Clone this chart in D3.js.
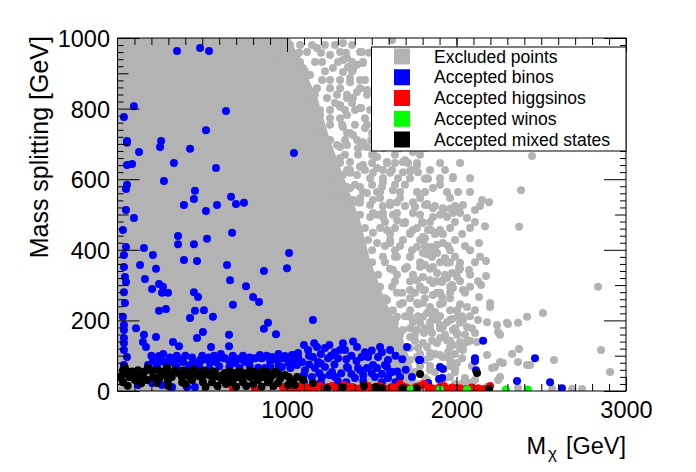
<!DOCTYPE html>
<html>
<head>
<meta charset="utf-8">
<script src="https://cdn.jsdelivr.net/npm/d3@7"></script>
<style>
  body { margin: 0; background: #fff; }
  svg { display: block; font-family: "Liberation Sans", Arial, sans-serif; }
  .tick-label { font-size: 23.5px; fill: #000; }
</style>
</head>
<body>
<div id="chart"></div>
<script>
// dense part of the excluded cloud (outline)
const excludedCore = [
  [0, 1000], [1018, 1000], [1077, 938], [1183, 825], [1254, 711], [1342, 598],
  [1431, 484], [1490, 371], [1578, 258], [1667, 173], [1726, 88], [1785, 0], [0, 0]
];

// scattered excluded points around the dense part
const excludedPoints = [
  [976, 943], [1059, 952], [1118, 960], [1177, 972], [1254, 952], [1313, 960], [1354, 943],
  [1431, 960], [1413, 924], [1448, 932], [1271, 915], [1330, 904], [1372, 887], [1413, 847],
  [1295, 839], [1236, 830], [1313, 810], [1195, 782], [1254, 773], [1354, 782], [1431, 802],
  [1472, 754], [1389, 725], [1448, 705], [1354, 697], [1295, 697], [1236, 677], [1313, 660],
  [1372, 649], [1448, 640], [1413, 612], [1330, 612], [1271, 592], [1372, 575], [1448, 564],
  [1531, 632], [1566, 603], [1590, 649], [1684, 649], [1767, 640], [1684, 620], [1737, 626],
  [1826, 603], [1767, 564], [1861, 575], [1944, 564], [1979, 603], [2009, 564], [1649, 535],
  [1531, 564], [1608, 527], [1743, 535], [1826, 527], [1920, 518], [2038, 527], [1490, 527],
  [1413, 535], [1330, 535], [1254, 555], [1212, 734], [1153, 819], [1177, 858], [1136, 895],
  [1094, 915],
  [1330, 986], [1442, 960], [1448, 929], [1330, 938], [1360, 918], [1389, 909], [1460, 881],
  [1372, 875], [1472, 853], [1354, 830], [1389, 830], [1313, 805], [1342, 796], [1437, 802],
  [1620, 994], [1460, 745], [1330, 748], [1354, 731], [1413, 711], [1431, 691], [1313, 691],
  [1472, 691], [1507, 677], [1531, 663], [1590, 646], [1566, 626], [1743, 677], [1696, 654],
  [1714, 646], [1767, 646], [1726, 623], [1773, 620], [1313, 646], [1354, 626], [1372, 618],
  [1431, 635], [1507, 618], [1566, 592], [1560, 578], [1608, 618], [1625, 569], [1431, 578],
  [1472, 561], [1354, 578], [1330, 541], [1389, 541], [1431, 533], [1507, 541], [1608, 533],
  [1507, 504], [1566, 493], [1649, 504], [1755, 521], [1814, 527], [1696, 476], [1743, 456],
  [1797, 479], [1832, 456], [1903, 456],
  [2446, 666], [1979, 606], [1814, 601], [1832, 601], [2381, 569], [2151, 541], [2192, 535],
  [1826, 530], [1861, 518], [1920, 510], [1962, 516], [1979, 504], [2015, 516], [2109, 513],
  [2062, 490], [1802, 476], [2168, 467], [2369, 465], [1850, 456], [1920, 445], [1814, 433],
  [2133, 419], [1873, 408], [1885, 414], [1826, 388], [1932, 377], [1962, 365], [2174, 368],
  [1814, 357], [2015, 351], [2015, 343], [2074, 343], [1885, 334], [1974, 334], [2174, 326],
  [1802, 323], [1844, 314], [1861, 306], [1915, 309], [1944, 320], [1974, 300], [1979, 292],
  [2145, 300], [1814, 286], [1861, 272], [1915, 266], [2133, 266], [1802, 249], [2062, 238],
  [2198, 249], [2198, 238], [2003, 227], [1826, 221], [1873, 224], [1861, 210], [2080, 212],
  [2127, 201], [1974, 204], [2009, 210], [2239, 187], [2298, 193], [2304, 190], [2363, 193],
  [2416, 210], [2510, 221], [1785, 193], [1844, 181], [1903, 187], [2021, 193], [2062, 181],
  [1808, 164], [1856, 164], [1979, 173], [2003, 159], [2109, 164], [2245, 167], [2257, 159],
  [1903, 150], [1944, 144], [2021, 139], [2062, 139], [2121, 139], [1826, 125], [1979, 130],
  [2038, 116], [2328, 105], [2369, 119], [2835, 295], [2853, 116], [1844, 108], [1903, 102],
  [1944, 96], [1950, 110], [2033, 93], [2180, 102], [2257, 82], [2274, 79], [2363, 82],
  [2434, 74], [2575, 88], [2906, 54], [2210, 65], [2227, 68], [1991, 62], [2257, 40],
  [2245, 31], [2080, 23], [2109, 31], [2180, 11], [2363, 8], [2564, 6], [2682, 6], [2741, 6],
  [1826, 31], [2003, 8], [2416, 74],
  [1490, 493], [1566, 504], [1649, 484], [1590, 456], [1507, 448], [1684, 476], [1743, 504],
  [1861, 493], [1944, 493], [2021, 504], [1726, 448], [1802, 436], [1885, 448], [1920, 419],
  [1844, 408], [1767, 408], [1684, 428], [1608, 419], [1531, 419], [1566, 380], [1649, 380],
  [1726, 380], [1802, 391], [1885, 391], [1962, 399], [2021, 363], [1944, 363], [1861, 351],
  [1785, 351], [1708, 351], [1625, 343], [1767, 314], [1844, 314], [1920, 314], [2003, 323],
  [2038, 286], [1962, 278], [1885, 278], [1802, 286], [1726, 286], [1649, 278], [1590, 258],
  [1684, 249], [1767, 249], [1844, 238], [1920, 249], [2003, 229], [2038, 201], [1962, 201],
  [1885, 201], [1802, 210], [1726, 210], [1649, 210], [1608, 181], [1684, 173], [1767, 173],
  [1844, 173], [1920, 181], [2003, 164], [2038, 125], [1962, 125], [1885, 136], [1802, 136],
  [1726, 153], [1844, 96], [1920, 96], [2003, 79], [1767, 96], [1684, 108], [1684, 68],
  [1844, 59], [1962, 40], [2038, 23],
  // denser blobs next to the solid part, upper half
  [900, 980], [959, 980], [1018, 980], [1077, 980], [1148, 980], [1224, 980], [1283, 980],
  [1384, 980], [1018, 932], [1077, 932], [1165, 932], [1207, 932], [1301, 932], [1384, 932],
  [1018, 881], [1077, 881], [1207, 881], [1254, 881], [1313, 881], [1431, 881], [1165, 839],
  [1354, 839], [1472, 839], [1195, 796], [1254, 796], [1401, 796], [1490, 796], [1254, 754],
  [1325, 754], [1401, 754], [1549, 754], [1254, 711], [1342, 711], [1496, 711], [1608, 711],
  [1342, 669], [1419, 669], [1502, 669], [1637, 669], [1785, 669], [1372, 626], [1460, 626],
  [1620, 626], [1844, 626], [1932, 626], [1401, 584], [1502, 584], [1637, 584], [1696, 584],
  [1903, 584], [1431, 547], [1549, 547], [1667, 547], [1785, 547], [1962, 547],
  [1071, 958], [1201, 958], [1348, 958], [1484, 958], [1106, 906], [1224, 906], [1384, 906],
  [1519, 906], [1254, 858], [1313, 858], [1431, 858], [1560, 858], [1283, 816], [1384, 816],
  [1537, 816], [1313, 773], [1460, 773], [1578, 773], [1372, 731], [1502, 731], [1655, 731],
  [1726, 731], [1419, 688], [1566, 688], [1667, 688], [1814, 688], [1502, 646], [1637, 646],
  [1903, 646], [2021, 646], [1490, 603], [1655, 603], [1726, 603], [1903, 603], [2080, 603],
  [1549, 564], [1667, 564], [1814, 564], [2080, 564], [1566, 524], [1696, 524], [1873, 524],
  [1991, 524], [2139, 524],
  // denser blobs next to the solid part, lower half
  [1431, 499], [1531, 499], [1625, 499], [1785, 499], [1903, 499], [1460, 462], [1549, 462],
  [1637, 462], [1767, 462], [1962, 462], [2080, 462], [1478, 428], [1608, 428], [1785, 428],
  [1991, 428], [1502, 399], [1637, 399], [1737, 399], [1844, 399], [2080, 399], [1502, 365],
  [1578, 365], [1785, 365], [1903, 365], [2109, 365], [1537, 329], [1649, 329], [1743, 329],
  [1932, 329], [2080, 329], [1549, 295], [1620, 295], [1785, 295], [1962, 295], [2080, 295],
  [1578, 263], [1726, 263], [1814, 263], [1962, 263], [1625, 229], [1726, 229], [1962, 229],
  [2109, 229], [1637, 195], [1743, 195], [1844, 195], [1944, 195], [2180, 195], [1667, 159],
  [1755, 159], [1932, 159], [2050, 159], [1726, 122], [1773, 122], [2021, 122], [1726, 88],
  [1814, 88], [1962, 88], [1755, 54], [1873, 54], [1991, 54], [1785, 20], [1903, 20], [1991, 20],
  [1578, 479], [1696, 479], [1844, 479], [1991, 479], [2109, 479], [1608, 445], [1726, 445],
  [1873, 445], [2033, 445], [1578, 411], [1667, 411], [1814, 411], [1950, 411], [2050, 411],
  [1637, 380], [1726, 380], [1856, 380], [1991, 380], [2139, 380], [1608, 346], [1696, 346],
  [1844, 346], [2021, 346], [1637, 311], [1726, 311], [1885, 311], [2021, 311], [2127, 311],
  [1679, 278], [1755, 278], [1903, 278], [2050, 278], [1667, 246], [1773, 246], [1903, 246],
  [2021, 246], [1696, 212], [1773, 212], [1903, 212], [2033, 212], [1726, 178], [1814, 178],
  [1903, 178], [1991, 178], [2091, 178], [1755, 142], [1856, 142], [1962, 142], [2080, 142],
  [1785, 105], [1873, 105], [1991, 105], [1785, 71], [1844, 71], [1962, 71], [2091, 71],
  [1814, 37], [1932, 37], [2050, 37]
];

const binoPoints = [
  [351, 963], [487, 972], [540, 963], [97, 807], [38, 776], [640, 793], [522, 739], [56, 708],
  [56, 703], [257, 708], [251, 691], [428, 686], [127, 677], [1041, 674], [56, 640], [86, 643],
  [333, 646], [581, 632], [274, 595], [56, 584], [50, 572], [457, 567], [451, 544], [670, 550],
  [392, 527], [587, 527], [699, 530], [746, 533], [522, 510], [50, 513], [97, 490], [32, 456],
  [357, 439], [676, 448], [528, 431], [357, 416], [451, 416], [50, 408], [156, 405], [209, 385],
  [1012, 391], [38, 385], [133, 357], [227, 346], [392, 371], [469, 368], [646, 357], [864, 340],
  [1000, 348], [38, 351], [44, 323], [50, 309], [38, 280], [44, 249], [162, 317], [664, 314],
  [204, 289], [245, 303], [268, 295], [263, 278], [298, 278], [451, 280], [475, 266], [758, 297],
  [800, 266], [835, 252], [681, 244], [286, 232], [245, 227], [457, 227], [510, 229], [563, 210],
  [428, 207], [1153, 201], [32, 210], [38, 187], [38, 173], [109, 178], [888, 193], [864, 176],
  [504, 167], [935, 161], [156, 159], [227, 153], [658, 159], [469, 150], [38, 150], [38, 136],
  [38, 116], [56, 96], [150, 139], [168, 125], [327, 139], [363, 127], [552, 125], [658, 127],
  [245, 99], [263, 85],
  [1065, 108], [1124, 116], [1177, 125], [1224, 122], [1283, 110], [1313, 116], [1342, 116],
  [1413, 125], [1460, 110], [1549, 125], [1608, 116], [1708, 125], [1088, 82], [1153, 96],
  [1183, 82], [1242, 93], [1301, 93], [1478, 96], [1537, 96], [1596, 88], [1106, 59], [1165, 65],
  [1224, 68], [1266, 54], [1360, 65], [1419, 65], [1472, 65], [1531, 65], [1578, 74], [1620, 54],
  [1667, 40], [1737, 40], [1785, 88], [1903, 68], [1915, 37], [1147, 40], [1206, 40], [1283, 40],
  [1401, 37], [1519, 40], [1596, 37], [1478, 102], [1354, 68], [1431, 59], [1507, 74], [1590, 68],
  [1608, 54], [1826, 20], [1897, 34], [1920, 62], [1779, 88], [1130, 100], [1200, 105],
  [1260, 100], [1380, 100], [1440, 96],
  [1100, 130], [1160, 135], [1250, 130], [1330, 135], [1390, 140], [1100, 45], [1190, 50],
  [1250, 45], [1320, 50], [1380, 48], [1450, 45], [1500, 50], [1560, 48], [1650, 55], [1700, 60],
  [1680, 90], [1640, 100], [1560, 110], [1500, 115], [1350, 90], [1410, 85], [1280, 75],
  [1200, 78], [1130, 75], [1100, 25], [1200, 25], [1300, 28], [1350, 25], [1450, 28], [1560, 25],
  [1640, 25],
  [180, 74], [387, 82], [428, 74], [487, 82], [546, 79], [634, 93], [693, 79], [752, 82],
  [811, 93], [852, 93], [912, 96], [971, 93], [1029, 102], [1065, 96], [870, 65], [971, 68],
  [1059, 74], [121, 17], [204, 23], [263, 17], [322, 11], [410, 11], [457, 11], [251, 96],
  [381, 88], [487, 88], [628, 93], [840, 102], [988, 99], [1047, 102], [38, 74],
  [210, 85], [240, 80], [300, 85], [330, 80], [360, 90], [460, 78], [520, 90], [580, 82],
  [600, 95], [660, 85], [720, 90], [780, 85], [900, 85], [940, 88], [1010, 80],
  [200, 100], [270, 105], [310, 95], [350, 100], [400, 100], [440, 95], [500, 100], [540, 95],
  [570, 100], [610, 105], [680, 100], [700, 92], [740, 100], [780, 95], [830, 95], [880, 100],
  [950, 105], [1000, 90], [1040, 85], [230, 70], [290, 72], [350, 68], [420, 65], [480, 68],
  [540, 62], [600, 70], [660, 68], [720, 65], [780, 70], [830, 66], [900, 70], [950, 72],
  [1020, 65],
  [2157, 142], [2109, 93], [2109, 85], [2115, 59], [2463, 93], [2357, 28], [2552, 25],
  [2622, 8], [1833, 23]
];

const higgsinoPoints = [
  [681, 8], [811, 6], [976, 11], [1018, 14], [1065, 8], [1106, 11], [1148, 6], [1195, 14],
  [1242, 11], [1289, 8], [1336, 17], [1384, 11], [1431, 8], [1478, 14], [1525, 11], [1572, 8],
  [1620, 11], [1667, 20], [1714, 8], [1761, 11], [1808, 20], [1856, 8], [1903, 11], [1950, 6],
  [1997, 8], [2056, 6], [2127, 8], [2198, 14],
  [1000, 6], [1040, 10], [1085, 14], [1127, 8], [1170, 10], [1218, 6], [1265, 14], [1312, 8],
  [1360, 12], [1407, 6], [1455, 10], [1500, 8], [1548, 14], [1596, 6], [1643, 10], [1690, 12],
  [1737, 6], [1785, 14], [1832, 10], [1880, 6], [1926, 14], [1973, 10], [2020, 8], [2090, 10],
  [2160, 6]
];

const winoPoints = [
  [1731, 4], [1903, 4], [2062, 4], [2292, 4], [2421, 4]
];

const mixedPoints = [
  [27, 45], [62, 54], [121, 59], [180, 65], [239, 59], [292, 65], [339, 59], [410, 54],
  [469, 54], [528, 51], [575, 54], [634, 51], [693, 51], [740, 51], [811, 54], [882, 54],
  [917, 45], [988, 45], [33, 25], [103, 31], [174, 31], [233, 23], [298, 31], [381, 25],
  [440, 31], [504, 25], [558, 25], [617, 31], [676, 25], [740, 25], [829, 31], [888, 25],
  [947, 23], [1006, 17], [1047, 17], [1095, 31], [1153, 23], [1236, 8], [1330, 11],
  [1454, 14], [1525, 11], [1560, 8], [1679, 8], [1767, 8], [1785, 48], [2121, 51], [2192, 6],
  [33, 59], [44, 65], [150, 45], [270, 45], [380, 40], [600, 40], [780, 40], [860, 40],
  [70, 40], [210, 40], [500, 40], [700, 38],
  [15, 38], [95, 45], [130, 40], [250, 38], [320, 40], [440, 45], [560, 40], [650, 40],
  [730, 38], [820, 40], [900, 35], [960, 35], [60, 15], [300, 14], [520, 12], [590, 14],
  [700, 12], [760, 14], [850, 12], [920, 14],
  [85, 55], [160, 55], [200, 58], [260, 55], [310, 50], [360, 50], [420, 42], [480, 42],
  [540, 45], [620, 45], [670, 42], [760, 45], [840, 48], [950, 50], [1010, 40], [1060, 40],
  [390, 58], [450, 60], [510, 58], [560, 56], [660, 57], [720, 55], [780, 58], [860, 57],
  [930, 55], [1030, 30], [140, 22], [400, 20], [640, 20], [800, 20]
];

const xTickLabels = [1000, 2000, 3000];
const yTickLabels = [0, 200, 400, 600, 800, 1000];

const legendLabels = [
  "Excluded points", "Accepted binos", "Accepted higgsinos",
  "Accepted winos", "Accepted mixed states"
];
const legendColors = ["#b3b3b3", "#0000ff", "#ff0000", "#00ff00", "#000000"];

const width = 696;
const height = 472;
const margin = { top: 38, right: 70, bottom: 81, left: 117.5 };
const innerWidth = width - margin.left - margin.right;
const innerHeight = height - margin.top - margin.bottom;

const x = d3.scaleLinear().domain([0, 3000]).range([0, innerWidth]);
const y = d3.scaleLinear().domain([0, 1000]).range([innerHeight, 0]);

const svg = d3.select("#chart")
  .append("svg")
  .attr("width", width)
  .attr("height", height);

svg.append("rect").attr("width", width).attr("height", height).attr("fill", "#fff");

const chart = svg.append("g")
  .attr("transform", `translate(${margin.left}, ${margin.top})`);

chart.append("defs")
  .append("clipPath")
  .attr("id", "plot-clip")
  .append("rect")
  .attr("width", innerWidth)
  .attr("height", innerHeight);

const plot = chart.append("g").attr("clip-path", "url(#plot-clip)");

// dense grey cloud
const core = d3.line().x((d) => x(d[0])).y((d) => y(d[1]));
plot.append("path")
  .attr("d", core(excludedCore) + "Z")
  .attr("fill", legendColors[0]);

function drawPoints(data, color) {
  plot.append("g")
    .selectAll("circle")
    .data(data)
    .join("circle")
    .attr("cx", (d) => x(d[0]))
    .attr("cy", (d) => y(d[1]))
    .attr("r", 4)
    .attr("fill", color);
}

drawPoints(excludedPoints, legendColors[0]);
drawPoints(binoPoints, legendColors[1]);
drawPoints(higgsinoPoints, legendColors[2]);
drawPoints(winoPoints, legendColors[3]);
drawPoints(mixedPoints, legendColors[4]);

// ticks point inwards on all four sides, like ROOT
function ticks(axis, values, size, transform) {
  const g = chart.append("g")
    .attr("transform", transform)
    .call(axis.tickValues(values).tickSize(-size).tickFormat(""));
  g.select(".domain").remove();
  g.selectAll("text").remove();
  g.selectAll("line").attr("stroke", "#000");
}

const x100 = d3.range(100, 3000, 100);
const y20 = d3.range(20, 1000, 20).filter((v) => v % 100 !== 0);
const y100 = [100, 300, 500, 700, 900];

ticks(d3.axisBottom(x), x100, 7, `translate(0, ${innerHeight})`);
ticks(d3.axisBottom(x), xTickLabels, 14, `translate(0, ${innerHeight})`);
ticks(d3.axisTop(x), x100, 7, "translate(0, 0)");
ticks(d3.axisTop(x), xTickLabels, 14, "translate(0, 0)");

ticks(d3.axisLeft(y), y20, 6, "translate(0, 0)");
ticks(d3.axisLeft(y), y100, 11, "translate(0, 0)");
ticks(d3.axisLeft(y), yTickLabels, 22, "translate(0, 0)");
ticks(d3.axisRight(y), y20, 6, `translate(${innerWidth}, 0)`);
ticks(d3.axisRight(y), y100, 11, `translate(${innerWidth}, 0)`);
ticks(d3.axisRight(y), yTickLabels, 22, `translate(${innerWidth}, 0)`);

// frame
chart.append("rect")
  .attr("width", innerWidth)
  .attr("height", innerHeight)
  .attr("fill", "none")
  .attr("stroke", "#000")
  .attr("stroke-width", 1);

// tick labels: d3 puts the font on the axis group, take it off so the css applies
const xLabels = chart.append("g")
  .attr("transform", `translate(0, ${innerHeight})`)
  .call(d3.axisBottom(x).tickValues(xTickLabels).tickSize(0).tickFormat(d3.format("d")))
  .attr("font-size", null)
  .attr("font-family", null);
xLabels.select(".domain").remove();
xLabels.selectAll("line").remove();
xLabels.selectAll("text")
  .attr("class", "tick-label")
  .attr("y", 26.5)
  .attr("dy", null);

const yLabels = chart.append("g")
  .call(d3.axisLeft(y).tickValues(yTickLabels).tickSize(0).tickFormat(d3.format("d")))
  .attr("font-size", null)
  .attr("font-family", null);
yLabels.select(".domain").remove();
yLabels.selectAll("line").remove();
yLabels.selectAll("text")
  .attr("class", "tick-label")
  .attr("x", -7.5)
  .attr("y", 8.5)
  .attr("dy", null);

// axis titles
const xTitle = svg.append("g").attr("class", "x-title");

xTitle.append("text")
  .attr("x", margin.left + innerWidth)
  .attr("y", 454)
  .attr("text-anchor", "end")
  .attr("font-size", 23.5)
  .text("[GeV]");

xTitle.append("text")
  .attr("x", 552.5)
  .attr("y", 459)
  .attr("text-anchor", "middle")
  .attr("font-size", 17)
  .text("\u03c7");

xTitle.append("text")
  .attr("x", 546)
  .attr("y", 454)
  .attr("text-anchor", "end")
  .attr("font-size", 23.5)
  .text("M");

svg.append("text")
  .attr("transform", "translate(48, 36) rotate(-90)")
  .attr("text-anchor", "end")
  .attr("font-size", 25)
  .text("Mass splitting [GeV]");

// legend
const legend = svg.append("g").attr("transform", "translate(371.5, 47)");

legend.append("rect")
  .attr("width", 626 - 371.5)
  .attr("height", 104)
  .attr("fill", "#fff")
  .attr("stroke", "#000")
  .attr("stroke-width", 1);

const entries = legend.selectAll("g.entry")
  .data(legendLabels)
  .join("g")
  .attr("class", "entry")
  .attr("transform", (d, i) => `translate(0, ${9.5 + i * 20.75})`);

entries.append("rect")
  .attr("x", 22.5)
  .attr("y", -8)
  .attr("width", 16)
  .attr("height", 16)
  .attr("fill", (d, i) => legendColors[i]);

entries.append("text")
  .attr("x", 62.5)
  .attr("dy", "0.35em")
  .attr("font-size", 17.5)
  .text((d) => d);
</script>
</body>
</html>
